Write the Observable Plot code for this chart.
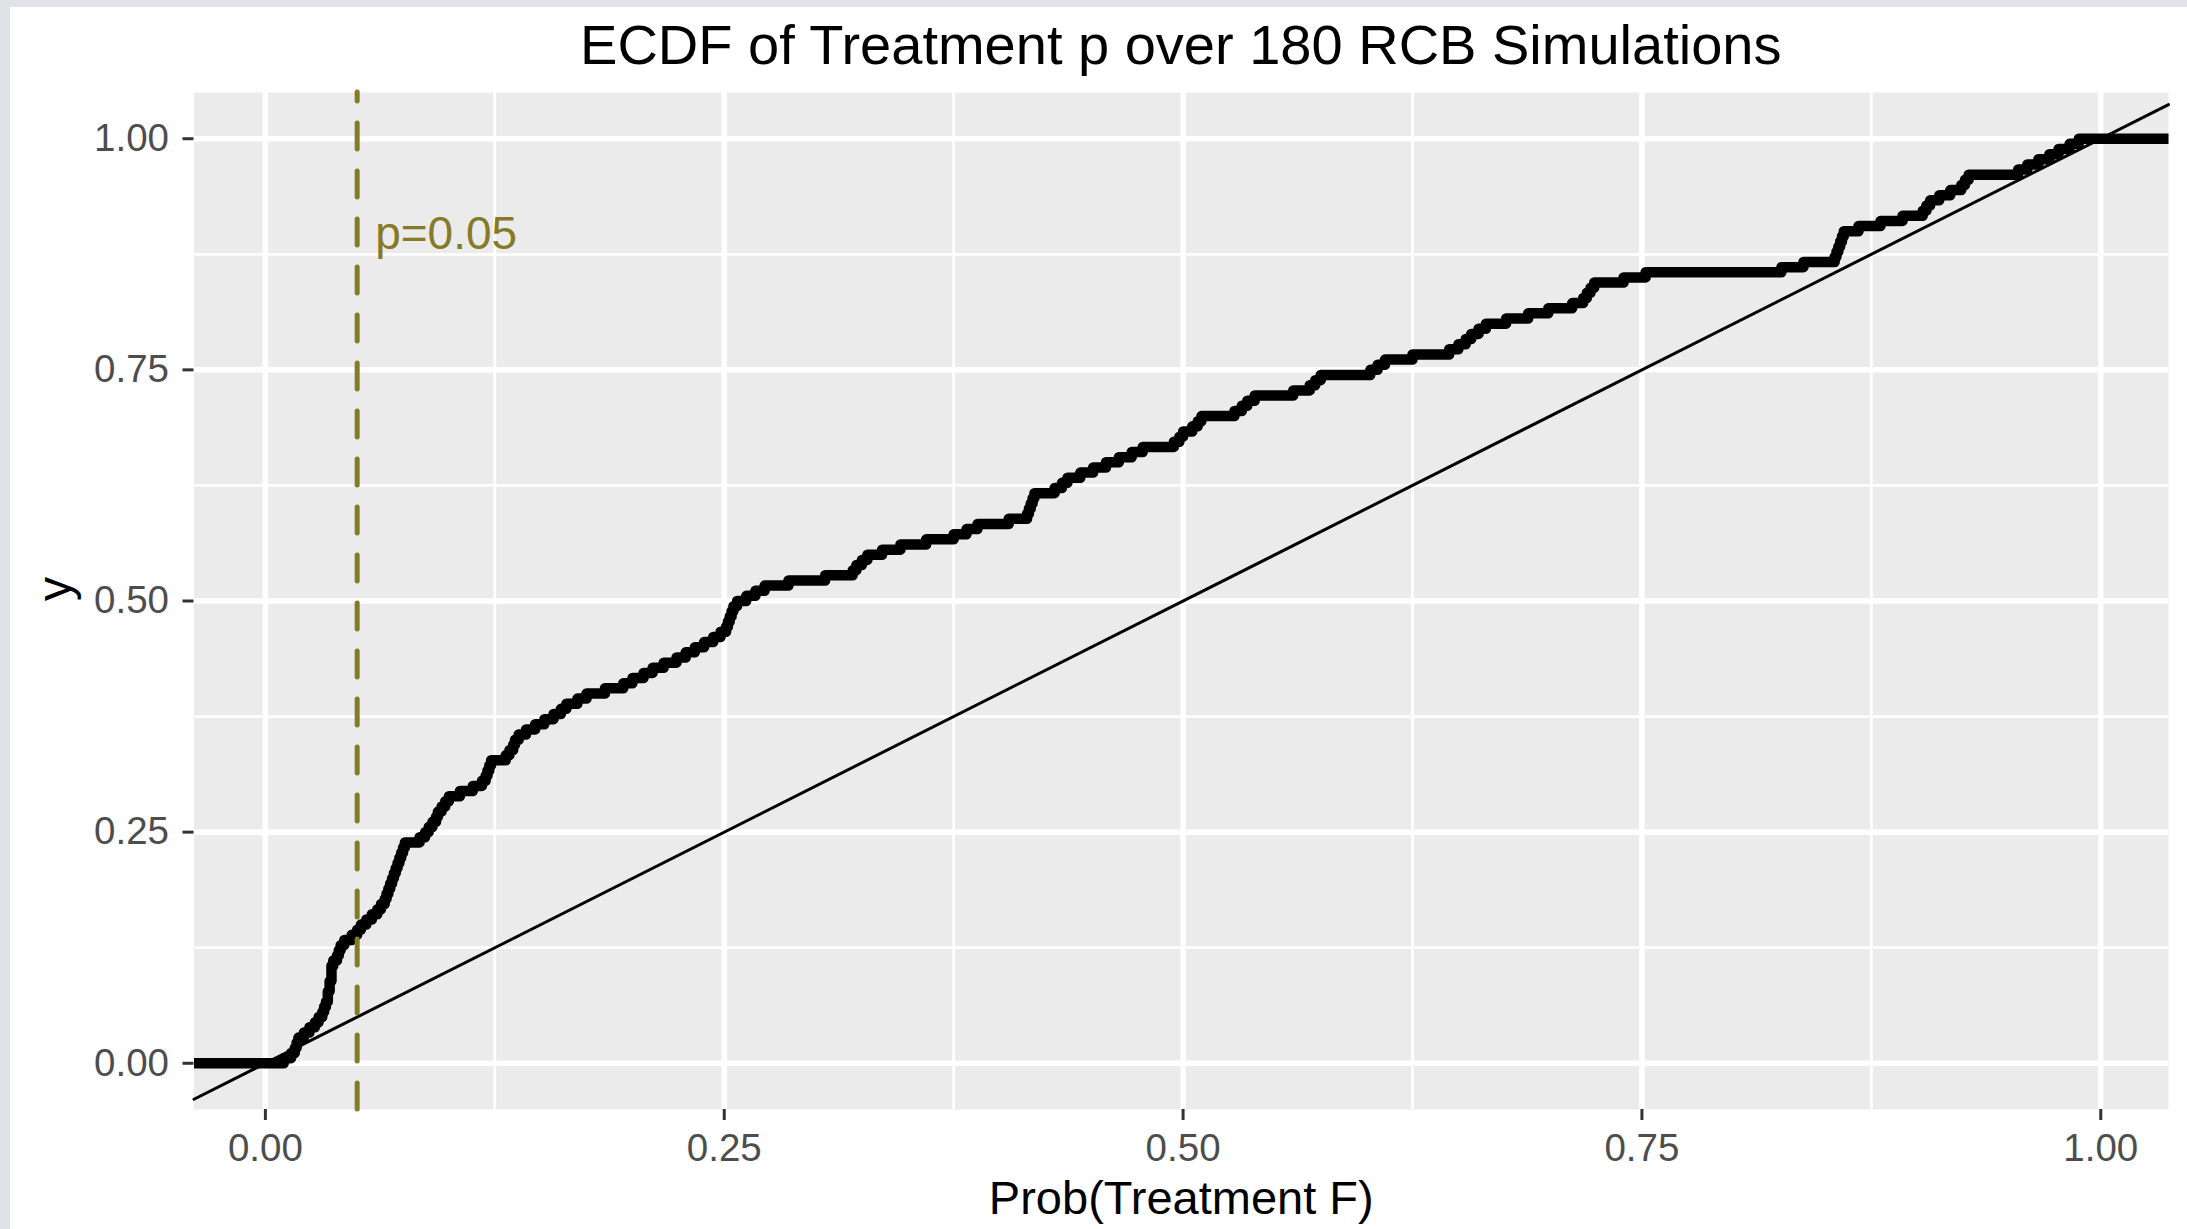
<!DOCTYPE html>
<html>
<head>
<meta charset="utf-8">
<script src="https://cdn.jsdelivr.net/npm/d3@7"></script>
<script src="https://cdn.jsdelivr.net/npm/@observablehq/plot@0.6"></script>
<style>
  html, body { margin: 0; padding: 0; }
  body { background: #dfe3e8; width: 2187px; height: 1229px; overflow: hidden; font-family: "Liberation Sans", Arial, Helvetica, sans-serif; }
  #card { position: absolute; left: 10px; top: 7px; width: 2177px; height: 1222px; background: #ffffff; }
  #title { position: absolute; left: 183.5px; width: 1974.5px; top: 10px; text-align: center; font-size: 56px; line-height: 56px; color: #000; white-space: nowrap; }
  #chart { position: absolute; left: 0; top: 75px; }
</style>
</head>
<body>
<div id="card">
  <div id="title"></div>
  <div id="chart"></div>
</div>
<script>
// ---- data ----
const titleText = "ECDF of Treatment p over 180 RCB Simulations";
const xLabel = "Prob(Treatment F)";
const yLabel = "y";

// sorted treatment p-values of the 180 simulations
const pValues = [
  0.010, 0.014, 0.016, 0.017, 0.018, 0.021, 0.024, 0.027, 0.029, 0.031,
  0.032, 0.033, 0.034, 0.034, 0.035, 0.035, 0.036, 0.036, 0.036, 0.037,
  0.039, 0.040, 0.041, 0.043, 0.047, 0.050, 0.052, 0.055, 0.058, 0.061,
  0.063, 0.065, 0.066, 0.067, 0.068, 0.069, 0.070, 0.071, 0.072, 0.073,
  0.074, 0.075, 0.076, 0.084, 0.087, 0.089, 0.091, 0.093, 0.094, 0.096,
  0.098, 0.100, 0.106, 0.113, 0.118, 0.120, 0.121, 0.122, 0.123, 0.131,
  0.133, 0.135, 0.136, 0.138, 0.142, 0.147, 0.152, 0.157, 0.161, 0.164,
  0.170, 0.175, 0.185, 0.195, 0.200, 0.206, 0.211, 0.217, 0.224, 0.229,
  0.234, 0.239, 0.244, 0.248, 0.251, 0.252, 0.253, 0.254, 0.255, 0.257,
  0.262, 0.267, 0.272, 0.285, 0.305, 0.320, 0.322, 0.325, 0.328, 0.336,
  0.346, 0.360, 0.375, 0.382, 0.388, 0.405, 0.415, 0.416, 0.417, 0.418,
  0.419, 0.430, 0.434, 0.437, 0.444, 0.451, 0.458, 0.465, 0.472, 0.478,
  0.495, 0.498, 0.500, 0.505, 0.508, 0.510, 0.528, 0.532, 0.535, 0.539,
  0.560, 0.569, 0.572, 0.575, 0.602, 0.606, 0.610, 0.625, 0.645, 0.650,
  0.654, 0.657, 0.661, 0.665, 0.676, 0.688, 0.699, 0.712, 0.718, 0.720,
  0.722, 0.724, 0.740, 0.752, 0.826, 0.838, 0.855, 0.856, 0.857, 0.858,
  0.859, 0.860, 0.868, 0.880, 0.892, 0.903, 0.905, 0.907, 0.912, 0.918,
  0.924, 0.926, 0.928, 0.955, 0.960, 0.966, 0.972, 0.977, 0.983, 0.988
];

const xTicks = [0, 0.25, 0.5, 0.75, 1];
const yTicks = [0, 0.25, 0.5, 0.75, 1];
const xMinor = [0.125, 0.375, 0.625, 0.875];
const yMinor = [0.125, 0.375, 0.625, 0.875];
const cutoff = 0.05;
const cutoffLabel = "p=0.05";
const cutoffLabelY = 0.9;

// ---- derived tables ----
const n = pValues.length;
const sorted = pValues.slice().sort(d3.ascending);
const [lo, hi] = d3.extent(sorted);
const pad = (hi - lo) * 0.05;                 // ggplot-style 5% expansion
const xDomain = [lo - pad, hi + pad];
const yDomain = [-0.05, 1.05];

const ecdf = [{x: xDomain[0], y: 0}]
  .concat(sorted.map((p, i) => ({x: p, y: (i + 1) / n})))
  .concat([{x: xDomain[1], y: 1}]);
const diagonal = xDomain.map(v => ({x: v, y: v}));
const annot = [{x: cutoff, y: cutoffLabelY, label: cutoffLabel}];

const olive = "#877a26";
const fmt = d3.format(".2f");

document.getElementById("title").textContent = titleText;

const chart = Plot.plot({
  width: 2177,
  height: 1147,
  marginLeft: 183.5,
  marginRight: 19,
  marginTop: 10,
  marginBottom: 120,
  x: {domain: xDomain, label: null},
  y: {domain: yDomain, label: null},
  style: {
    background: "transparent",
    fontFamily: "'Liberation Sans', Arial, Helvetica, sans-serif",
    fontSize: "38px",
    color: "#4d4d4d"
  },
  marks: [
    Plot.frame({fill: "#ebebeb", stroke: null}),
    Plot.gridX(xMinor, {stroke: "#ffffff", strokeOpacity: 1, strokeWidth: 2.8}),
    Plot.gridY(yMinor, {stroke: "#ffffff", strokeOpacity: 1, strokeWidth: 2.8}),
    Plot.gridX(xTicks, {stroke: "#ffffff", strokeOpacity: 1, strokeWidth: 5.5}),
    Plot.gridY(yTicks, {stroke: "#ffffff", strokeOpacity: 1, strokeWidth: 5.5}),
    Plot.axisX(xTicks, {tickFormat: fmt, tickSize: 11, tickPadding: 13, fontSize: 38.5, fill: "#4d4d4d", stroke: "#333333", strokeWidth: 3, label: null}),
    Plot.axisY(yTicks, {tickFormat: fmt, tickSize: 11, tickPadding: 14, fontSize: 38.5, fill: "#4d4d4d", stroke: "#333333", strokeWidth: 3, label: null}),
    Plot.line(ecdf, {x: "x", y: "y", curve: "step-after", stroke: "#000000", strokeWidth: 10.5, strokeLinejoin: "round", strokeLinecap: "butt"}),
    Plot.line(diagonal, {x: "x", y: "y", stroke: "#000000", strokeWidth: 3}),
    Plot.ruleX([cutoff], {y1: yDomain[0], y2: yDomain[1], stroke: olive, strokeWidth: 5, strokeDasharray: "26 22", strokeLinecap: "round"}),
    Plot.text(annot, {x: "x", y: "y", text: "label", textAnchor: "start", dx: 18, dy: 3, fontSize: 46, fill: olive}),
    Plot.text([xLabel], {frameAnchor: "bottom", lineAnchor: "bottom", dy: 104.5, fontSize: 47, fill: "#000000"}),
    Plot.text([yLabel], {frameAnchor: "left", rotate: -90, lineAnchor: "bottom", dx: -123.5, fontSize: 48, fill: "#000000"})
  ]
});
document.getElementById("chart").appendChild(chart);
</script>
</body>
</html>
